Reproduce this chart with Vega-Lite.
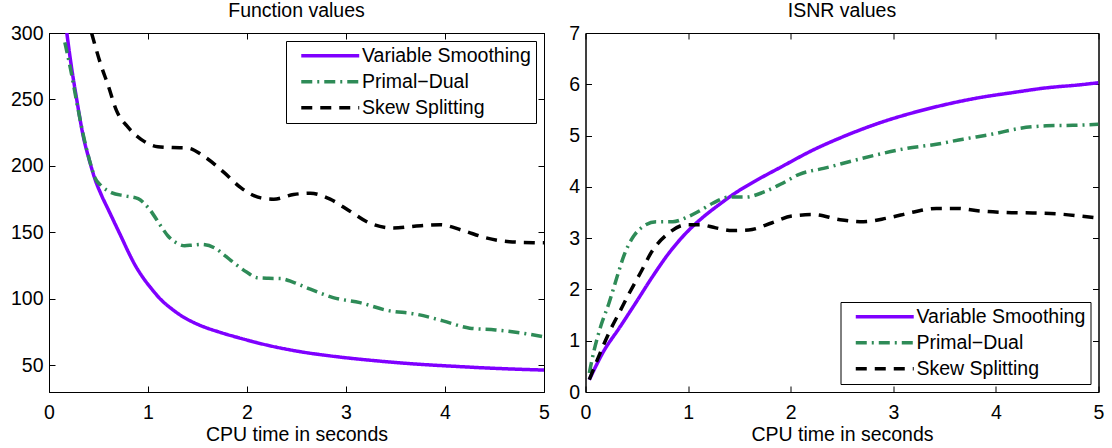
{
  "$schema": "https://vega.github.io/schema/vega-lite/v6.json",
  "padding": {"left": 9, "top": 0, "right": 5, "bottom": 0},
  "datasets": {
    "fv": [
      {"t": 0.18, "v": 300, "s": "Variable Smoothing"},
      {"t": 0.22, "v": 278, "s": "Variable Smoothing"},
      {"t": 0.28, "v": 250, "s": "Variable Smoothing"},
      {"t": 0.347, "v": 222, "s": "Variable Smoothing"},
      {"t": 0.405, "v": 205, "s": "Variable Smoothing"},
      {"t": 0.465, "v": 190, "s": "Variable Smoothing"},
      {"t": 0.53, "v": 178, "s": "Variable Smoothing"},
      {"t": 0.6, "v": 167, "s": "Variable Smoothing"},
      {"t": 0.67, "v": 156, "s": "Variable Smoothing"},
      {"t": 0.734, "v": 146, "s": "Variable Smoothing"},
      {"t": 0.8, "v": 135.5, "s": "Variable Smoothing"},
      {"t": 0.869, "v": 125.5, "s": "Variable Smoothing"},
      {"t": 0.95, "v": 116, "s": "Variable Smoothing"},
      {"t": 1.037, "v": 107.5, "s": "Variable Smoothing"},
      {"t": 1.13, "v": 99.5, "s": "Variable Smoothing"},
      {"t": 1.24, "v": 92.5, "s": "Variable Smoothing"},
      {"t": 1.35, "v": 86.7, "s": "Variable Smoothing"},
      {"t": 1.475, "v": 81.8, "s": "Variable Smoothing"},
      {"t": 1.6, "v": 78, "s": "Variable Smoothing"},
      {"t": 1.71, "v": 75.3, "s": "Variable Smoothing"},
      {"t": 1.94, "v": 70.3, "s": "Variable Smoothing"},
      {"t": 2.2, "v": 65.3, "s": "Variable Smoothing"},
      {"t": 2.54, "v": 60.3, "s": "Variable Smoothing"},
      {"t": 2.9, "v": 56.6, "s": "Variable Smoothing"},
      {"t": 3.3, "v": 53.5, "s": "Variable Smoothing"},
      {"t": 3.71, "v": 51, "s": "Variable Smoothing"},
      {"t": 4.1, "v": 49.3, "s": "Variable Smoothing"},
      {"t": 4.5, "v": 47.8, "s": "Variable Smoothing"},
      {"t": 5.0, "v": 46.5, "s": "Variable Smoothing"},
      {"t": 0.16, "v": 293, "s": "Primal−Dual"},
      {"t": 0.22, "v": 272, "s": "Primal−Dual"},
      {"t": 0.28, "v": 248, "s": "Primal−Dual"},
      {"t": 0.35, "v": 222, "s": "Primal−Dual"},
      {"t": 0.41, "v": 204, "s": "Primal−Dual"},
      {"t": 0.465, "v": 191, "s": "Primal−Dual"},
      {"t": 0.53, "v": 185, "s": "Primal−Dual"},
      {"t": 0.63, "v": 180, "s": "Primal−Dual"},
      {"t": 0.77, "v": 177.5, "s": "Primal−Dual"},
      {"t": 0.9, "v": 175.5, "s": "Primal−Dual"},
      {"t": 1.0, "v": 168.8, "s": "Primal−Dual"},
      {"t": 1.14, "v": 153.7, "s": "Primal−Dual"},
      {"t": 1.2, "v": 147.5, "s": "Primal−Dual"},
      {"t": 1.28, "v": 142.5, "s": "Primal−Dual"},
      {"t": 1.37, "v": 140, "s": "Primal−Dual"},
      {"t": 1.45, "v": 140.5, "s": "Primal−Dual"},
      {"t": 1.54, "v": 141, "s": "Primal−Dual"},
      {"t": 1.67, "v": 138.5, "s": "Primal−Dual"},
      {"t": 1.77, "v": 133, "s": "Primal−Dual"},
      {"t": 1.87, "v": 127, "s": "Primal−Dual"},
      {"t": 2.0, "v": 120, "s": "Primal−Dual"},
      {"t": 2.1, "v": 116, "s": "Primal−Dual"},
      {"t": 2.22, "v": 115.5, "s": "Primal−Dual"},
      {"t": 2.34, "v": 115.3, "s": "Primal−Dual"},
      {"t": 2.47, "v": 112.5, "s": "Primal−Dual"},
      {"t": 2.64, "v": 107.3, "s": "Primal−Dual"},
      {"t": 2.87, "v": 101, "s": "Primal−Dual"},
      {"t": 3.14, "v": 97.2, "s": "Primal−Dual"},
      {"t": 3.41, "v": 91.5, "s": "Primal−Dual"},
      {"t": 3.71, "v": 88.5, "s": "Primal−Dual"},
      {"t": 3.98, "v": 83.5, "s": "Primal−Dual"},
      {"t": 4.25, "v": 78, "s": "Primal−Dual"},
      {"t": 4.51, "v": 76.7, "s": "Primal−Dual"},
      {"t": 4.78, "v": 74.3, "s": "Primal−Dual"},
      {"t": 5.0, "v": 71.5, "s": "Primal−Dual"},
      {"t": 0.43, "v": 300, "s": "Skew Splitting"},
      {"t": 0.52, "v": 277, "s": "Skew Splitting"},
      {"t": 0.6, "v": 260, "s": "Skew Splitting"},
      {"t": 0.68, "v": 242, "s": "Skew Splitting"},
      {"t": 0.8, "v": 229, "s": "Skew Splitting"},
      {"t": 0.93, "v": 220, "s": "Skew Splitting"},
      {"t": 1.1, "v": 214.5, "s": "Skew Splitting"},
      {"t": 1.25, "v": 213.8, "s": "Skew Splitting"},
      {"t": 1.4, "v": 213.5, "s": "Skew Splitting"},
      {"t": 1.57, "v": 207, "s": "Skew Splitting"},
      {"t": 1.77, "v": 195, "s": "Skew Splitting"},
      {"t": 1.94, "v": 183.5, "s": "Skew Splitting"},
      {"t": 2.14, "v": 176, "s": "Skew Splitting"},
      {"t": 2.27, "v": 175, "s": "Skew Splitting"},
      {"t": 2.47, "v": 178.5, "s": "Skew Splitting"},
      {"t": 2.64, "v": 179.5, "s": "Skew Splitting"},
      {"t": 2.84, "v": 175, "s": "Skew Splitting"},
      {"t": 3.04, "v": 166, "s": "Skew Splitting"},
      {"t": 3.24, "v": 157, "s": "Skew Splitting"},
      {"t": 3.48, "v": 153.3, "s": "Skew Splitting"},
      {"t": 3.71, "v": 154.8, "s": "Skew Splitting"},
      {"t": 3.95, "v": 155.8, "s": "Skew Splitting"},
      {"t": 4.18, "v": 151.5, "s": "Skew Splitting"},
      {"t": 4.41, "v": 146, "s": "Skew Splitting"},
      {"t": 4.65, "v": 143, "s": "Skew Splitting"},
      {"t": 4.92, "v": 142.3, "s": "Skew Splitting"},
      {"t": 5.0, "v": 142.2, "s": "Skew Splitting"}
    ],
    "isnr": [
      {"t": 0.037, "v": 0.24, "s": "Variable Smoothing"},
      {"t": 0.1, "v": 0.5, "s": "Variable Smoothing"},
      {"t": 0.17, "v": 0.77, "s": "Variable Smoothing"},
      {"t": 0.33, "v": 1.25, "s": "Variable Smoothing"},
      {"t": 0.49, "v": 1.74, "s": "Variable Smoothing"},
      {"t": 0.65, "v": 2.24, "s": "Variable Smoothing"},
      {"t": 0.81, "v": 2.7, "s": "Variable Smoothing"},
      {"t": 0.98, "v": 3.1, "s": "Variable Smoothing"},
      {"t": 1.14, "v": 3.4, "s": "Variable Smoothing"},
      {"t": 1.3, "v": 3.65, "s": "Variable Smoothing"},
      {"t": 1.46, "v": 3.88, "s": "Variable Smoothing"},
      {"t": 1.66, "v": 4.12, "s": "Variable Smoothing"},
      {"t": 1.9, "v": 4.38, "s": "Variable Smoothing"},
      {"t": 2.22, "v": 4.72, "s": "Variable Smoothing"},
      {"t": 2.55, "v": 5.01, "s": "Variable Smoothing"},
      {"t": 2.87, "v": 5.25, "s": "Variable Smoothing"},
      {"t": 3.2, "v": 5.45, "s": "Variable Smoothing"},
      {"t": 3.52, "v": 5.61, "s": "Variable Smoothing"},
      {"t": 3.84, "v": 5.74, "s": "Variable Smoothing"},
      {"t": 4.17, "v": 5.84, "s": "Variable Smoothing"},
      {"t": 4.49, "v": 5.93, "s": "Variable Smoothing"},
      {"t": 4.82, "v": 5.99, "s": "Variable Smoothing"},
      {"t": 5.0, "v": 6.03, "s": "Variable Smoothing"},
      {"t": 0.037, "v": 0.37, "s": "Primal−Dual"},
      {"t": 0.086, "v": 0.83, "s": "Primal−Dual"},
      {"t": 0.15, "v": 1.29, "s": "Primal−Dual"},
      {"t": 0.23, "v": 1.74, "s": "Primal−Dual"},
      {"t": 0.31, "v": 2.26, "s": "Primal−Dual"},
      {"t": 0.38, "v": 2.69, "s": "Primal−Dual"},
      {"t": 0.47, "v": 3.04, "s": "Primal−Dual"},
      {"t": 0.57, "v": 3.24, "s": "Primal−Dual"},
      {"t": 0.69, "v": 3.32, "s": "Primal−Dual"},
      {"t": 0.85, "v": 3.32, "s": "Primal−Dual"},
      {"t": 0.98, "v": 3.4, "s": "Primal−Dual"},
      {"t": 1.11, "v": 3.53, "s": "Primal−Dual"},
      {"t": 1.24, "v": 3.68, "s": "Primal−Dual"},
      {"t": 1.4, "v": 3.8, "s": "Primal−Dual"},
      {"t": 1.56, "v": 3.8, "s": "Primal−Dual"},
      {"t": 1.74, "v": 3.9, "s": "Primal−Dual"},
      {"t": 1.9, "v": 4.05, "s": "Primal−Dual"},
      {"t": 2.09, "v": 4.25, "s": "Primal−Dual"},
      {"t": 2.32, "v": 4.36, "s": "Primal−Dual"},
      {"t": 2.61, "v": 4.51, "s": "Primal−Dual"},
      {"t": 2.87, "v": 4.64, "s": "Primal−Dual"},
      {"t": 3.13, "v": 4.75, "s": "Primal−Dual"},
      {"t": 3.42, "v": 4.83, "s": "Primal−Dual"},
      {"t": 3.68, "v": 4.93, "s": "Primal−Dual"},
      {"t": 3.97, "v": 5.03, "s": "Primal−Dual"},
      {"t": 4.23, "v": 5.14, "s": "Primal−Dual"},
      {"t": 4.49, "v": 5.19, "s": "Primal−Dual"},
      {"t": 4.75, "v": 5.2, "s": "Primal−Dual"},
      {"t": 5.0, "v": 5.22, "s": "Primal−Dual"},
      {"t": 0.037, "v": 0.24, "s": "Skew Splitting"},
      {"t": 0.13, "v": 0.7, "s": "Skew Splitting"},
      {"t": 0.23, "v": 1.16, "s": "Skew Splitting"},
      {"t": 0.33, "v": 1.55, "s": "Skew Splitting"},
      {"t": 0.43, "v": 1.94, "s": "Skew Splitting"},
      {"t": 0.54, "v": 2.34, "s": "Skew Splitting"},
      {"t": 0.65, "v": 2.75, "s": "Skew Splitting"},
      {"t": 0.8, "v": 3.08, "s": "Skew Splitting"},
      {"t": 0.98, "v": 3.26, "s": "Skew Splitting"},
      {"t": 1.12, "v": 3.26, "s": "Skew Splitting"},
      {"t": 1.27, "v": 3.2, "s": "Skew Splitting"},
      {"t": 1.43, "v": 3.15, "s": "Skew Splitting"},
      {"t": 1.59, "v": 3.16, "s": "Skew Splitting"},
      {"t": 1.82, "v": 3.3, "s": "Skew Splitting"},
      {"t": 2.01, "v": 3.43, "s": "Skew Splitting"},
      {"t": 2.22, "v": 3.46, "s": "Skew Splitting"},
      {"t": 2.48, "v": 3.36, "s": "Skew Splitting"},
      {"t": 2.71, "v": 3.32, "s": "Skew Splitting"},
      {"t": 2.94, "v": 3.39, "s": "Skew Splitting"},
      {"t": 3.2, "v": 3.51, "s": "Skew Splitting"},
      {"t": 3.42, "v": 3.58, "s": "Skew Splitting"},
      {"t": 3.62, "v": 3.58, "s": "Skew Splitting"},
      {"t": 3.84, "v": 3.53, "s": "Skew Splitting"},
      {"t": 4.1, "v": 3.5, "s": "Skew Splitting"},
      {"t": 4.36, "v": 3.49, "s": "Skew Splitting"},
      {"t": 4.62, "v": 3.47, "s": "Skew Splitting"},
      {"t": 4.82, "v": 3.43, "s": "Skew Splitting"},
      {"t": 5.0, "v": 3.39, "s": "Skew Splitting"}
    ]
  },
  "spacing": 17.5,
  "hconcat": [
    {
      "title": "Function values",
      "width": 495,
      "height": 359,
      "data": {"name": "fv"},
      "layer": [
        {
          "mark": {"type": "line", "interpolate": "monotone", "strokeWidth": 3.5, "clip": true},
          "encoding": {
            "x": {"field": "t", "type": "quantitative", "scale": {"domain": [0, 5], "nice": false, "zero": false},
                  "axis": {"orient": "bottom", "title": "CPU time in seconds", "values": [0, 1, 2, 3, 4, 5]}},
            "y": {"field": "v", "type": "quantitative", "scale": {"domain": [30, 300], "nice": false, "zero": false},
                  "axis": {"orient": "left", "title": null, "values": [50, 100, 150, 200, 250, 300]}},
            "color": {"field": "s", "type": "nominal",
                      "scale": {"domain": ["Variable Smoothing", "Primal−Dual", "Skew Splitting"], "range": ["#7f00ff", "#2e8b57", "#000000"]},
                      "legend": {"orient": "top-right", "title": null, "symbolType": "M-4,0H4"}},
            "strokeDash": {"field": "s", "type": "nominal",
                      "scale": {"domain": ["Variable Smoothing", "Primal−Dual", "Skew Splitting"], "range": [[1, 0], [11, 5, 2, 5], [11, 8]]},
                      "legend": {"orient": "top-right", "title": null, "symbolType": "M-4,0H4"}}
          }
        },
        {
          "mark": {"type": "line", "opacity": 0},
          "encoding": {
            "x": {"field": "t", "type": "quantitative", "axis": {"orient": "top", "title": null, "labels": false, "values": [0, 1, 2, 3, 4, 5]}},
            "y": {"field": "v", "type": "quantitative", "axis": {"orient": "right", "title": null, "labels": false, "values": [50, 100, 150, 200, 250, 300]}},
            "detail": {"field": "s"}
          }
        }
      ],
      "resolve": {"axis": {"x": "independent", "y": "independent"}}
    },
    {
      "title": "ISNR values",
      "width": 513,
      "height": 359,
      "data": {"name": "isnr"},
      "layer": [
        {
          "mark": {"type": "line", "interpolate": "monotone", "strokeWidth": 3.5, "clip": true},
          "encoding": {
            "x": {"field": "t", "type": "quantitative", "scale": {"domain": [0, 5], "nice": false, "zero": false},
                  "axis": {"orient": "bottom", "title": "CPU time in seconds", "values": [0, 1, 2, 3, 4, 5]}},
            "y": {"field": "v", "type": "quantitative", "scale": {"domain": [0, 7], "nice": false, "zero": false},
                  "axis": {"orient": "left", "title": null, "values": [0, 1, 2, 3, 4, 5, 6, 7]}},
            "color": {"field": "s", "type": "nominal",
                      "scale": {"domain": ["Variable Smoothing", "Primal−Dual", "Skew Splitting"], "range": ["#7f00ff", "#2e8b57", "#000000"]},
                      "legend": {"orient": "bottom-right", "title": null, "symbolType": "M-4,0H4"}},
            "strokeDash": {"field": "s", "type": "nominal",
                      "scale": {"domain": ["Variable Smoothing", "Primal−Dual", "Skew Splitting"], "range": [[1, 0], [11, 5, 2, 5], [11, 8]]},
                      "legend": {"orient": "bottom-right", "title": null, "symbolType": "M-4,0H4"}}
          }
        },
        {
          "mark": {"type": "line", "opacity": 0},
          "encoding": {
            "x": {"field": "t", "type": "quantitative", "axis": {"orient": "top", "title": null, "labels": false, "values": [0, 1, 2, 3, 4, 5]}},
            "y": {"field": "v", "type": "quantitative", "axis": {"orient": "right", "title": null, "labels": false, "values": [0, 1, 2, 3, 4, 5, 6, 7]}},
            "detail": {"field": "s"}
          }
        }
      ],
      "resolve": {"axis": {"x": "independent", "y": "independent"}}
    }
  ],
  "resolve": {"scale": {"color": "independent", "strokeDash": "independent"}},
  "config": {
    "font": "Liberation Sans",
    "view": {"stroke": "black", "strokeWidth": 1},
    "axis": {
      "grid": false, "labelFontSize": 19.5, "titleFontSize": 19.5, "titleFontWeight": "normal",
      "labelColor": "black", "titleColor": "black", "domainColor": "black", "domainWidth": 1,
      "tickColor": "black", "tickSize": -6, "tickWidth": 1, "labelPadding": 12,
      "labelFlush": false, "labelOverlap": false, "titlePadding": 3.5
    },
    "axisX": {"labelPadding": 17},
    "title": {"fontSize": 19.5, "fontWeight": "normal", "color": "black", "offset": 2, "anchor": "middle"},
    "legend": {
      "strokeColor": "black", "fillColor": "white", "padding": 5, "labelFontSize": 19.5, "labelColor": "black",
      "symbolSize": 210, "symbolStrokeWidth": 3.5, "symbolOffset": 29.5, "labelOffset": 22, "rowPadding": 5,
      "offset": 8, "labelLimit": 400, "cornerRadius": 0, "strokeWidth": 1
    }
  }
}
